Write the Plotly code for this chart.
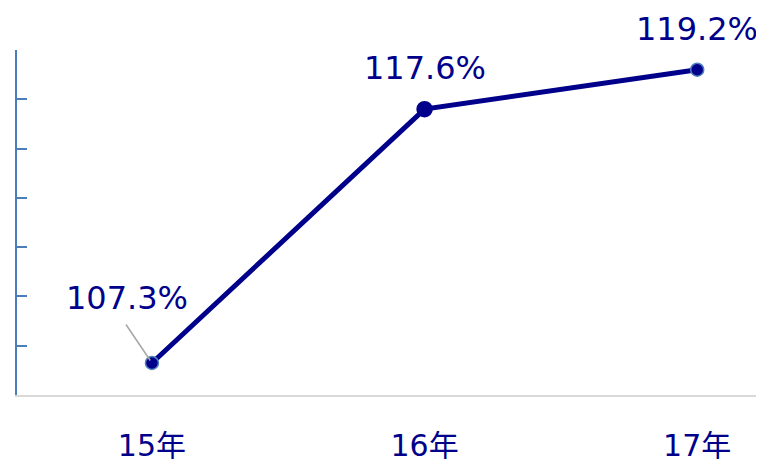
import plotly.graph_objects as go

categories = ["15年", "16年", "17年"]
values = [107.3, 117.6, 119.2]
labels = ["107.3%", "117.6%", "119.2%"]
marker_sizes = [13, 15, 13]
marker_outline = ["#4f81bd", "#00008b", "#4f81bd"]

NAVY = "#00008b"
FONT = "DejaVu Sans, Noto Sans CJK JP, sans-serif"

fig = go.Figure()
fig.add_trace(go.Scatter(
    x=categories, y=values, mode="lines+markers",
    line=dict(color=NAVY, width=5),
    marker=dict(size=marker_sizes, color=NAVY, opacity=1,
                line=dict(color=marker_outline, width=1.5)),
    cliponaxis=False, hoverinfo="skip",
))

label_offsets = [(-25, -65), (0, -41), (0, -41)]
for c, v, t, (dx, dy) in zip(categories, values, labels, label_offsets):
    fig.add_annotation(x=c, y=v, text=t, showarrow=False,
                       xshift=dx, yshift=-dy,
                       font=dict(family=FONT, size=32, color=NAVY))

# leader line for the first label
fig.add_annotation(x=categories[0], y=values[0], text="", showarrow=True,
                   arrowhead=0, arrowwidth=1.5, arrowcolor="#a6a6a6",
                   ax=-27, ay=-40, standoff=3)

# page body has an 8px margin, so the figure is sized to fill the rest
fig.update_layout(
    width=756, height=451,
    margin=dict(l=9, r=0, t=42, b=64),
    paper_bgcolor="white", plot_bgcolor="white",
    showlegend=False,
    xaxis=dict(type="category", range=[-0.495, 2.245], automargin=False,
               showgrid=False, showline=True, linecolor="#d9d9d9", linewidth=2,
               ticks="", ticklabelstandoff=23,
               tickfont=dict(family=FONT, size=30, color=NAVY)),
    yaxis=dict(range=[106, 120], dtick=2, tick0=106, automargin=False,
               showgrid=False, showline=True, linecolor="#4a7ebb", linewidth=2,
               ticks="inside", ticklen=10, tickwidth=2, tickcolor="#4a7ebb",
               showticklabels=False, zeroline=False),
)

fig.write_html("out.html")
